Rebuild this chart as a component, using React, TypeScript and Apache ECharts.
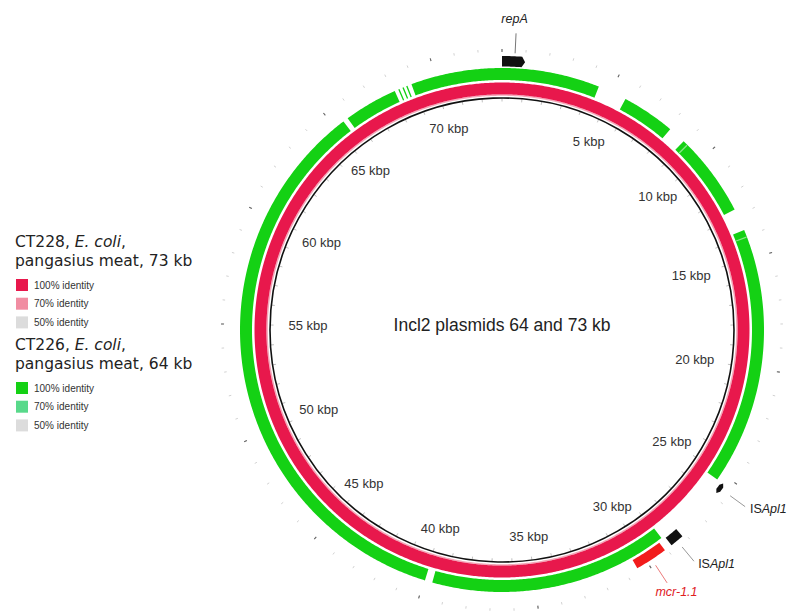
import React, { useEffect, useRef } from 'react';
import * as echarts from 'echarts';

// ---------- data ----------
const PLASMID_KB = 73; // CT228 reference length (kb)
const kbpLabels = [5, 10, 15, 20, 25, 30, 35, 40, 45, 50, 55, 60, 65, 70];
// CT228 ring (reference, full identity)
const ct228Blocks: [number, number][] = [[0, 73]];
// CT226 ring (BLAST hits against CT228, kb start/end)
const ct226Blocks: [number, number][] = [
  [68.9, 4.4],
  [5.7, 8.1],
  [8.9, 12.7],
  [13.7, 25.3],
  [28.9, 39.63],
  [39.97, 65.45],
  [65.68, 68.1],
  [68.27, 68.33],
  [68.47, 68.53],
  [68.65, 68.71],
];
const ct226Seams = [9.1, 14.0];
// annotated genes
const geneNames = ['repA', 'ISApl1', 'ISApl1', 'mcr-1.1'];
const geneStart = [0.0, 25.3, 28.15, 29.1];
const geneEnd = [1.0, 25.8, 28.75, 30.5];
const geneLabelKb = [0.55, 25.55, 28.45, 29.78];
// legend
const legendStrains = ['CT228', 'CT226'];
const legendSpecies = 'E. coli';
const legendSources = ['pangasius meat', 'pangasius meat'];
const legendSizesKb = [73, 64];
const identityLevels = ['100% identity', '70% identity', '50% identity'];
const centerTitle = 'Incl2 plasmids 64 and 73 kb';

// ---------- styles ----------
const FONT = '"Liberation Sans", Arial, Helvetica, sans-serif';
const HEAD_FONT = '"DejaVu Sans", Verdana, sans-serif';
const CX = 502;
const CY = 330;
const R_BACKBONE = 232;
const RED_RING = [235.6, 247.5];
const PINK_RING = [234.2, 235.6];
const GREEN_RING = [250, 262];
const GENE_RING = [263.5, 274];
const RED = '#e8184c';
const PINK = '#f4a6b8';
const GREEN = '#14d114';
const SEAM = '#86e686';
const legendColors = [
  ['#e8174c', '#f18da2', '#dcdcdc'],
  ['#14d114', '#58d98a', '#dcdcdc'],
];
const geneColors = ['#111111', '#111111', '#111111', '#f21c1c'];
const geneLabelColors = ['#222222', '#222222', '#222222', '#e0201e'];
const leaderColors = ['#777777', '#999999', '#999999', '#ec7a7a'];

function pt(api: any, r: number, k: number) {
  const c = api.coord([r, ((k % PLASMID_KB) + PLASMID_KB) % PLASMID_KB]);
  return [c[0], c[1]];
}

function arcPolygon(api: any, r0: number, r1: number, k0: number, k1: number, tipStart = 0, tipEnd = 0) {
  if (k1 < k0) k1 += PLASMID_KB;
  const a0 = k0 + tipStart;
  const a1 = k1 - tipEnd;
  const n = Math.max(2, Math.ceil((a1 - a0) / 0.08));
  const rm = (r0 + r1) / 2;
  const pts: number[][] = [];
  if (tipStart) pts.push(pt(api, rm, k0));
  for (let i = 0; i <= n; i++) pts.push(pt(api, r1, a0 + ((a1 - a0) * i) / n));
  if (tipEnd) pts.push(pt(api, rm, k1));
  for (let i = n; i >= 0; i--) pts.push(pt(api, r0, a0 + ((a1 - a0) * i) / n));
  return pts;
}

function ringSeries(blocks: [number, number][], r: number[], color: string, z: number) {
  return {
    type: 'custom',
    coordinateSystem: 'polar',
    polarIndex: 0,
    silent: true,
    z,
    data: blocks.map((b) => [b[0], b[1]]),
    renderItem: (params: any, api: any) => ({
      type: 'polygon',
      shape: { points: arcPolygon(api, r[0], r[1], api.value(0), api.value(1)) },
      style: { fill: color, stroke: null },
    }),
  };
}

function buildLegend() {
  const els: any[] = [];
  const tops = [242, 345];
  legendStrains.forEach((strain, g) => {
    const y0 = tops[g];
    const rich = {
      n: { fontSize: 15.5, fontFamily: HEAD_FONT, fill: '#222' },
      i: { fontSize: 15.5, fontFamily: HEAD_FONT, fill: '#222', fontStyle: 'italic' },
    };
    els.push({
      type: 'text',
      x: 15,
      y: y0,
      style: {
        text: `{n|${strain}, }{i|${legendSpecies}}{n|,}`,
        rich,
        fontSize: 15.5,
        fontFamily: HEAD_FONT,
        fill: '#222',
        verticalAlign: 'middle',
        textVerticalAlign: 'middle',
      },
    });
    els.push({
      type: 'text',
      x: 15,
      y: y0 + 19,
      style: {
        text: `${legendSources[g]}, ${legendSizesKb[g]} kb`,
        fontSize: 15.5,
        fontFamily: HEAD_FONT,
        fill: '#222',
        verticalAlign: 'middle',
        textVerticalAlign: 'middle',
      },
    });
    identityLevels.forEach((lvl, j) => {
      const yc = y0 + 43 + j * 18.7;
      els.push({
        type: 'rect',
        shape: { x: 16, y: yc - 6, width: 12, height: 12 },
        style: { fill: legendColors[g][j] },
      });
      els.push({
        type: 'text',
        x: 34,
        y: yc,
        style: {
          text: lvl,
          fontSize: 10,
          fontFamily: FONT,
          fill: '#333',
          verticalAlign: 'middle',
          textVerticalAlign: 'middle',
        },
      });
    });
  });
  els.push({
    type: 'text',
    x: CX,
    y: CY - 5,
    style: {
      text: centerTitle,
      fontSize: 17.5,
      fontFamily: FONT,
      fill: '#222',
      align: 'center',
      textAlign: 'center',
      verticalAlign: 'middle',
      textVerticalAlign: 'middle',
    },
  });
  return els;
}

function geneRender(params: any, api: any) {
  const i = params.dataIndex;
  const k0 = api.value(0);
  const k1 = api.value(1);
  const kl = api.value(2);
  const children: any[] = [];
  let pts: number[][];
  if (i === 0) pts = arcPolygon(api, GENE_RING[0], GENE_RING[1], k0, k1, 0, 0.14);
  else if (i === 1) pts = arcPolygon(api, 266.8, 271.6, k0, k1, 0.14, 0.14);
  else pts = arcPolygon(api, GENE_RING[0] + 1, GENE_RING[1], k0, k1);
  children.push({ type: 'polygon', shape: { points: pts }, style: { fill: geneColors[i] } });

  const leader = i === 0 ? [277, 297] : i === 3 ? [281, 302] : [282, 300.5];
  const a = pt(api, leader[0], kl);
  const b = pt(api, leader[1], kl);
  children.push({
    type: 'line',
    shape: { x1: a[0], y1: a[1], x2: b[0], y2: b[1] },
    style: { stroke: leaderColors[i], lineWidth: 1 },
  });

  const name = geneNames[i];
  let text: string;
  const base = { fontSize: 12.5, fontFamily: FONT, fill: geneLabelColors[i] };
  const rich = { n: { ...base }, i: { ...base, fontStyle: 'italic' } };
  if (name.startsWith('IS')) text = `{n|IS}{i|${name.slice(2)}}`;
  else text = `{i|${name}}`;
  let tp: number[];
  let align = 'left';
  if (i === 0) {
    tp = pt(api, 311, kl - 0.08);
    align = 'center';
  } else if (i === 3) {
    tp = pt(api, 315, kl - 0.1);
    align = 'center';
  } else {
    tp = pt(api, 305.5, kl - 0.05);
  }
  children.push({
    type: 'text',
    x: tp[0],
    y: tp[1],
    style: {
      text,
      rich,
      ...base,
      align,
      textAlign: align,
      verticalAlign: 'middle',
      textVerticalAlign: 'middle',
    },
  });
  return { type: 'group', children };
}

function buildOption(): any {
  const angleBase = {
    type: 'value',
    min: 0,
    max: PLASMID_KB,
    startAngle: 90,
    clockwise: true,
    axisLabel: { show: false },
    splitLine: { show: false },
    splitArea: { show: false },
  };
  return {
    animation: false,
    backgroundColor: '#ffffff',
    polar: [
      { center: [CX, CY], radius: R_BACKBONE },
      { center: [CX, CY], radius: 281 },
      { center: [CX, CY], radius: 281 },
    ],
    angleAxis: [
      {
        ...angleBase,
        polarIndex: 0,
        interval: 1,
        axisLine: { show: true, lineStyle: { color: '#111', width: 1.6 } },
        axisTick: { show: true, inside: true, length: 3.5, lineStyle: { color: '#b0b0b0', width: 0.8 } },
        z: 5,
      },
      {
        ...angleBase,
        polarIndex: 1,
        interval: 1,
        axisLine: { show: false },
        axisTick: { show: true, inside: true, length: 2.5, lineStyle: { color: '#d2d2d2', width: 1 } },
      },
      {
        ...angleBase,
        polarIndex: 2,
        interval: 5,
        axisLine: { show: false },
        axisTick: { show: true, inside: true, length: 3, lineStyle: { color: '#666', width: 1.1 } },
      },
    ],
    radiusAxis: [
      { polarIndex: 0, type: 'value', min: 0, max: R_BACKBONE, show: false },
      { polarIndex: 1, type: 'value', min: 0, max: 1, show: false },
      { polarIndex: 2, type: 'value', min: 0, max: 1, show: false },
    ],
    graphic: { elements: buildLegend() },
    series: [
      ringSeries(ct228Blocks, PINK_RING, PINK, 2),
      ringSeries(ct228Blocks, RED_RING, RED, 2),
      ringSeries(ct226Blocks, GREEN_RING, GREEN, 2),
      {
        type: 'custom',
        coordinateSystem: 'polar',
        polarIndex: 0,
        silent: true,
        z: 3,
        data: ct226Seams.map((k) => [k]),
        renderItem: (params: any, api: any) => ({
          type: 'polygon',
          shape: { points: arcPolygon(api, GREEN_RING[0] + 0.5, GREEN_RING[1] - 0.5, api.value(0), api.value(0) + 0.06) },
          style: { fill: SEAM },
        }),
      },
      {
        type: 'custom',
        coordinateSystem: 'polar',
        polarIndex: 0,
        silent: true,
        z: 4,
        data: geneStart.map((s, i) => [s, geneEnd[i], geneLabelKb[i]]),
        renderItem: geneRender,
      },
      {
        type: 'custom',
        coordinateSystem: 'polar',
        polarIndex: 0,
        silent: true,
        z: 4,
        data: kbpLabels.map((k) => [k]),
        renderItem: (params: any, api: any) => {
          const k = api.value(0);
          const th = (k / PLASMID_KB) * 2 * Math.PI;
          const rl = 208 - 14 * Math.pow(Math.sin(th), 6);
          const p = pt(api, rl, k);
          return {
            type: 'text',
            x: p[0],
            y: p[1],
            style: {
              text: `${k} kbp`,
              fontSize: 13,
              fontFamily: FONT,
              fill: '#333',
              align: 'center',
              textAlign: 'center',
              verticalAlign: 'middle',
              textVerticalAlign: 'middle',
            },
          };
        },
      },
    ],
  };
}

export default function App() {
  const ref = useRef<HTMLDivElement>(null);
  useEffect(() => {
    if (!ref.current) return;
    const chart = echarts.init(ref.current, null, { renderer: 'svg' });
    chart.setOption(buildOption());
    return () => chart.dispose();
  }, []);
  return (
    <div
      ref={ref}
      style={{ position: 'fixed', left: 0, top: 0, width: 793, height: 612, background: '#fff' }}
    />
  );
}
